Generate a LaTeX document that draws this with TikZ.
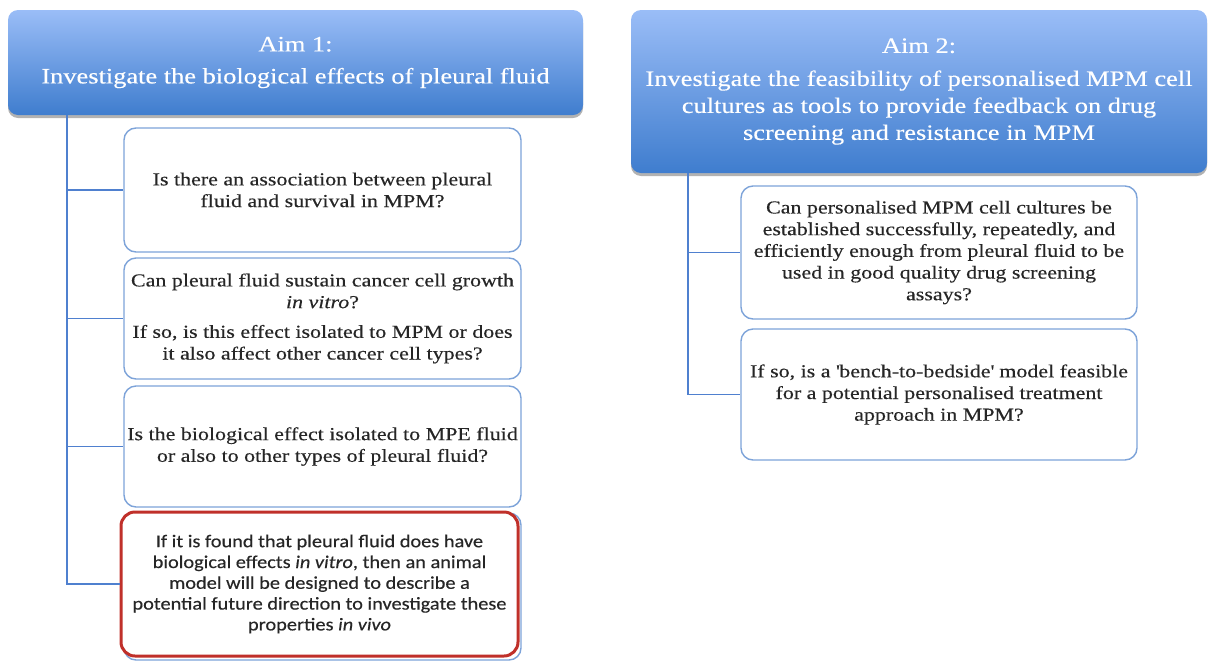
\documentclass[tikz,border=0pt]{standalone}
\usepackage{fontspec}
\setmainfont{Liberation Serif}[FakeStretch=1.2,FakeBold=0.3]
\newfontfamily\boxsans{Carlito}[FakeStretch=1.13,FakeBold=0.3]
\usetikzlibrary{shadows}
\definecolor{aimtop}{HTML}{9ABDF7}
\definecolor{aimbot}{HTML}{3F7DCE}
\definecolor{boxline}{HTML}{7DA3D9}
\definecolor{connline}{HTML}{4F80CF}
\definecolor{txt}{HTML}{262626}
\definecolor{redline}{HTML}{C0302A}
\begin{document}
\begin{tikzpicture}[x=1pt,y=-1pt,
 aim/.style={rounded corners=10pt, top color=aimtop, bottom color=aimbot, draw=none, text=white, align=center,
   font=\fontsize{22}{27}\selectfont, inner sep=0pt,
   drop shadow={shadow xshift=0pt, shadow yshift=-3pt, opacity=0.3, fill=black}},
 qbox/.style={rounded corners=12pt, draw=boxline, line width=1.4pt, fill=white, align=center, text=txt,
   font=\fontsize{18.3}{21.7}\selectfont, inner sep=0pt},
 redbox/.style={rounded corners=14pt, draw=redline, line width=3pt, fill=white, align=center, text=txt,
   font=\boxsans\fontsize{18}{20.8}\selectfont, inner sep=0pt},
 conn/.style={draw=connline, line width=1.3pt}]
\useasboundingbox (0,0) rectangle (1213,662);

% Aim boxes
\node[aim, minimum width=575pt, minimum height=105pt] (aim1) at (295.5,62.5)
  {Aim 1:\\[5pt] Investigate the biological effects of pleural fluid};
\node[aim, minimum width=576pt, minimum height=163pt] (aim2) at (919,91.5)
  {Aim 2:\\[6pt] Investigate the feasibility of personalised MPM cell\\ cultures as tools to provide feedback on drug\\ screening and resistance in MPM};

% trunk coordinates
\coordinate (lt) at (67,0);
\coordinate (rt) at (688,0);

% left boxes
\node[qbox, minimum width=397pt, minimum height=124pt] (b1) at (322.5,190)
  {Is there an association between pleural\\ fluid and survival in MPM?};
\node[qbox, minimum width=397pt, minimum height=121pt] (b2) at (322.5,318.5)
  {Can pleural fluid sustain cancer cell growth\\ \textit{in vitro}?\\[8pt] If so, is this effect isolated to MPM or does\\ it also affect other cancer cell types?};
\node[qbox, minimum width=397pt, minimum height=121pt] (b3) at (322.5,446.5)
  {Is the biological effect isolated to MPE fluid\\ or also to other types of pleural fluid?};
\node[qbox, minimum width=397pt, minimum height=147pt] (b4back) at (322.5,586.5) {};
\node[redbox, minimum width=397pt, minimum height=144pt] (b4) at (319.5,584)
  {If it is found that pleural fluid does have\\ biological effects \textit{in vitro}, then an animal\\ model will be designed to describe a\\ potential future direction to investigate these\\ properties \textit{in vivo}};

% right boxes
\node[qbox, minimum width=396pt, minimum height=133pt] (r1) at (939,252.5)
  {Can personalised MPM cell cultures be\\ established successfully, repeatedly, and\\ efficiently enough from pleural fluid to be\\ used in good quality drug screening\\ assays?};
\node[qbox, minimum width=396pt, minimum height=131pt] (r2) at (939,394.5)
  {If so, is a \textquotesingle bench-to-bedside\textquotesingle\ model feasible\\ for a potential personalised treatment\\ approach in MPM?};

% connectors
\draw[conn] (lt |- aim1.south) |- (b1.west);
\draw[conn] (lt |- aim1.south) |- (b2.west);
\draw[conn] (lt |- aim1.south) |- (b3.west);
\draw[conn] (lt |- aim1.south) |- (b4.west);
\draw[conn] (rt |- aim2.south) |- (r1.west);
\draw[conn] (rt |- aim2.south) |- (r2.west);
\end{tikzpicture}
\end{document}
